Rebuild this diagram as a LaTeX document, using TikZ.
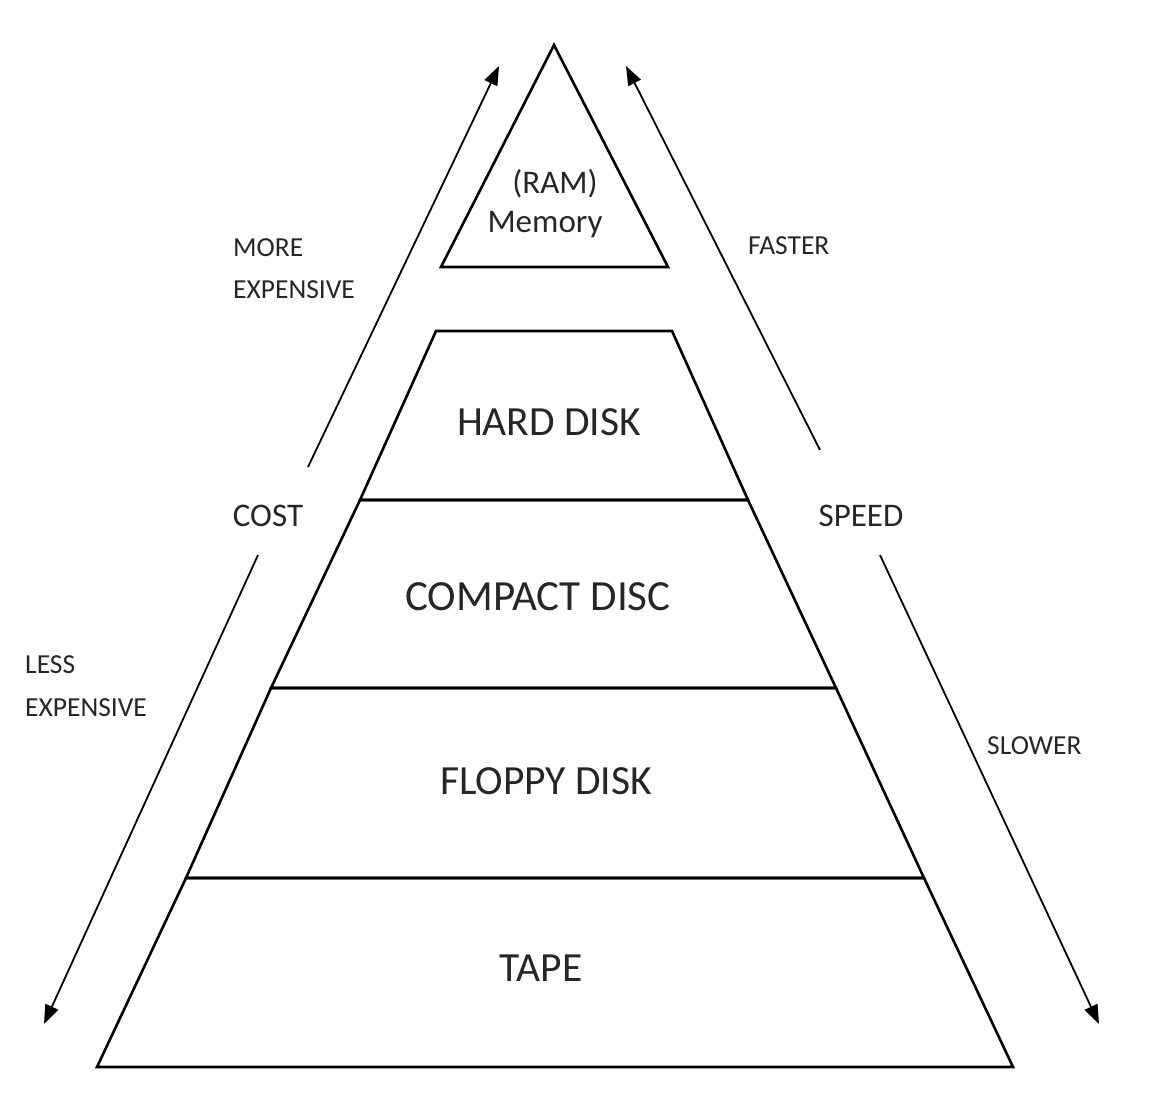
\documentclass[tikz,border=0pt]{standalone}
\usepackage{fontspec}
\setmainfont{Carlito}
\usetikzlibrary{arrows.meta}
\definecolor{txt}{HTML}{262626}
\begin{document}
\begin{tikzpicture}[x=1pt,y=-1pt,
  layer/.style={draw=black,line width=2.6pt,line join=miter},
  big/.style={font=\fontsize{41.5}{45}\selectfont,text=txt,inner sep=0pt},
  mid/.style={font=\fontsize{33}{38}\selectfont,text=txt,inner sep=0pt},
  small/.style={font=\fontsize{27.5}{30}\selectfont,text=txt,inner sep=0pt,anchor=west},
  arr/.style={draw=black,line width=1.8pt,-{Triangle[length=19pt,width=14pt]}}]
\useasboundingbox (0,0) rectangle (1158,1108);
% pyramid layers
\draw[layer] (554,45) -- (441,267) -- (668,267) -- cycle;
\draw[layer] (436,331) -- (672,331) -- (748,500) -- (360,500) -- cycle;
\draw[layer] (360,500) -- (748,500) -- (836,688) -- (271,688) -- cycle;
\draw[layer] (271,688) -- (836,688) -- (924,878) -- (186,878) -- cycle;
\draw[layer] (186,878) -- (924,878) -- (1013,1067) -- (97,1067) -- cycle;
% layer labels
\node[mid] (ram) at (555,184) {(RAM)};
\node[mid] (mem) at (545,225) {Memory};
\node[big] (hd) at (549,422) {HARD DISK};
\node[big,font=\fontsize{43}{45}\selectfont] (cd) at (538,597) {COMPACT DISC};
\node[big] (fd) at (546,781) {FLOPPY DISK};
\node[big] (tape) at (541,968) {TAPE};
% side labels
\node[mid] (cost) at (268,516) {COST};
\node[mid] (speed) at (861,516) {SPEED};
\node[small] (more) at (233,248) {MORE};
\node[small] (moreexp) at (233,290) {EXPENSIVE};
\node[small] (faster) at (748,246) {FASTER};
\node[small] (less) at (25,665) {LESS};
\node[small] (lessexp) at (25,708) {EXPENSIVE};
\node[small] (slower) at (987,746) {SLOWER};
% arrows
\coordinate (lu1) at (308,467);
\coordinate (lu2) at (499,66);
\coordinate (ld1) at (258,555);
\coordinate (ld2) at (44,1024);
\coordinate (ru1) at (820,450);
\coordinate (ru2) at (626,66);
\coordinate (rd1) at (880,555);
\coordinate (rd2) at (1099,1024);
\draw[arr] (lu1) -- (lu2);
\draw[arr] (ld1) -- (ld2);
\draw[arr] (ru1) -- (ru2);
\draw[arr] (rd1) -- (rd2);
\end{tikzpicture}
\end{document}
